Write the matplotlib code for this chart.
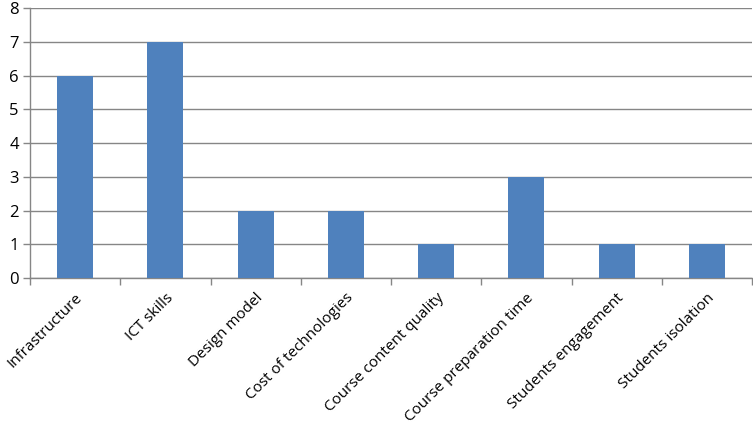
import matplotlib
matplotlib.use('Agg')
from matplotlib import pyplot as plt

categories = ['Infrastructure', 'ICT skills', 'Design model', 'Cost of technologies',
              'Course content quality', 'Course preparation time',
              'Students engagement', 'Students isolation']
values = [6, 7, 2, 2, 1, 3, 1, 1]

plt.rcParams['font.family'] = ['Open Sans', 'DejaVu Sans']

fig = plt.figure(figsize=(7.53, 4.28), dpi=100)
ax = fig.add_axes([0.0398, 0.3505, 0.959, 0.6305])

x = list(range(len(categories)))
ax.bar(x, values, width=0.4, color='#4F81BD', zorder=3)

ax.set_xlim(-0.5, len(categories) - 0.5)
ax.set_ylim(0, 8)
ax.set_yticks(range(0, 9))
ax.yaxis.grid(True, color='#868686', linewidth=1, zorder=0)

# ticks between categories like Excel
ax.set_xticks([i - 0.5 for i in range(len(categories) + 1)])
ax.set_xticklabels([])
ax.set_xticks(x, minor=True)
ax.set_xticklabels(categories, minor=True, rotation=45, ha='right',
                   rotation_mode='anchor', fontsize=11)
ax.tick_params(axis='x', which='minor', length=0, pad=9)
ax.tick_params(axis='x', which='major', length=5, color='#868686', width=1)
ax.tick_params(axis='y', length=5, color='#868686', width=1, labelsize=12, pad=3)

for side in ['top', 'right']:
    ax.spines[side].set_visible(False)
for side in ['left', 'bottom']:
    ax.spines[side].set_color('#868686')
    ax.spines[side].set_linewidth(1)

fig.savefig('out.png', dpi=100)
